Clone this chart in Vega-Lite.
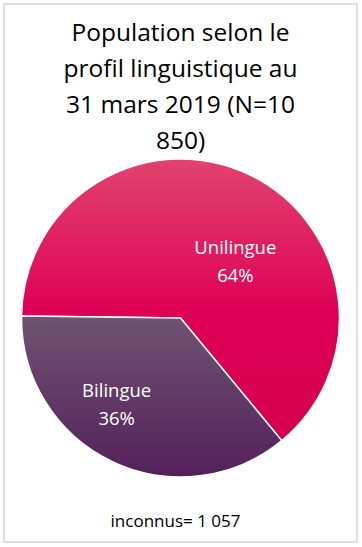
{
  "$schema": "https://vega.github.io/schema/vega-lite/v6.json",
  "width": 362,
  "height": 547,
  "autosize": {"type": "fit", "contains": "padding"},
  "padding": {"left": 4, "top": 4, "right": 5, "bottom": 5},
  "background": "white",
  "view": {"stroke": "#e0e0e0", "strokeWidth": 2},
  "config": {"view": {"stroke": "#e0e0e0", "strokeWidth": 2}},
  "title": {
    "text": ["Population selon le", "profil linguistique au", "31 mars 2019 (N=10", "850)"],
    "font": "Open Sans",
    "fontSize": 24.5,
    "fontWeight": "normal",
    "color": "#000000",
    "lineHeight": 36,
    "offset": -150,
    "anchor": "middle"
  },
  "data": {
    "values": [
      {"profil": "Unilingue", "n": 6250, "pct": "64%"},
      {"profil": "Bilingue", "n": 3543, "pct": "36%"}
    ]
  },
  "transform": [
    {"stack": "n", "groupby": [], "as": ["v0", "v1"], "sort": [{"field": "n", "order": "descending"}]},
    {"calculate": "(datum.v0 + datum.v1) / 2", "as": "mid"},
    {"calculate": "datum.profil + '\\n' + datum.pct", "as": "label"}
  ],
  "layer": [
    {
      "transform": [{"filter": "datum.profil === 'Unilingue'"}],
      "mark": {
        "type": "arc", "radius": 159, "yOffset": 45, "stroke": "white", "strokeWidth": 1.5,
        "color": {"gradient": "linear", "x1": 0, "y1": 0, "x2": 0, "y2": 1,
          "stops": [{"offset": 0, "color": "#e0436f"}, {"offset": 0.55, "color": "#df0056"}, {"offset": 1, "color": "#d3004e"}]}
      },
      "encoding": {
        "theta": {"field": "v0", "type": "quantitative", "stack": null, "scale": {"domain": [0, 9793], "range": [4.7246, 11.0078]}},
        "theta2": {"field": "v1"}
      }
    },
    {
      "transform": [{"filter": "datum.profil === 'Bilingue'"}],
      "mark": {
        "type": "arc", "radius": 159, "yOffset": 45, "stroke": "white", "strokeWidth": 1.5,
        "color": {"gradient": "linear", "x1": 0, "y1": 0, "x2": 0, "y2": 1,
          "stops": [{"offset": 0, "color": "#6f5371"}, {"offset": 1, "color": "#53205a"}]}
      },
      "encoding": {
        "theta": {"field": "v0", "type": "quantitative", "stack": null},
        "theta2": {"field": "v1"}
      }
    },
    {
      "transform": [{"filter": "datum.profil === 'Unilingue'"}],
      "mark": {"type": "text", "radius": 90, "yOffset": 45, "dx": 16, "dy": 11, "lineBreak": "\n", "lineHeight": 28,
        "font": "Open Sans", "fontSize": 18.5, "color": "white", "align": "center", "baseline": "middle"},
      "encoding": {
        "theta": {"field": "mid", "type": "quantitative", "stack": null},
        "text": {"field": "label"}
      }
    },
    {
      "transform": [{"filter": "datum.profil === 'Bilingue'"}],
      "mark": {"type": "text", "radius": 90, "yOffset": 45, "dx": -25, "dy": -8, "lineBreak": "\n", "lineHeight": 28,
        "font": "Open Sans", "fontSize": 18.5, "color": "white", "align": "center", "baseline": "middle"},
      "encoding": {
        "theta": {"field": "mid", "type": "quantitative", "stack": null},
        "text": {"field": "label"}
      }
    },
    {
      "data": {"values": [{"note": "inconnus= 1 057"}]},
      "mark": {"type": "text", "dx": -5, "dy": 249, "font": "Open Sans", "fontSize": 17, "color": "#000000", "align": "center", "baseline": "middle"},
      "encoding": {"text": {"field": "note"}}
    }
  ]
}
